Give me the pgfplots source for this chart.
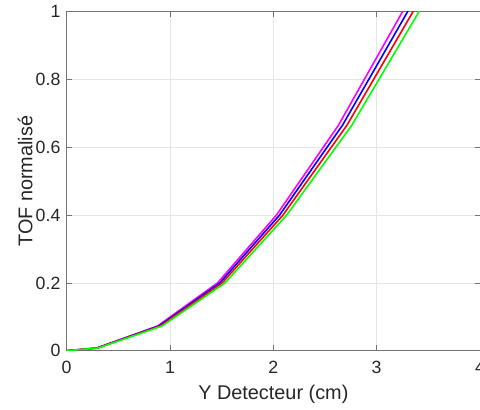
\documentclass[border=0pt]{standalone}
\usepackage{pgfplots}
\pgfplotsset{compat=1.18}
\usepackage{fontspec}
\setmainfont{Liberation Sans}
\definecolor{mmag}{rgb}{1,0,1}
\definecolor{mblue}{rgb}{0,0,1}
\definecolor{mred}{rgb}{1,0,0}
\definecolor{mgreen}{rgb}{0,1,0}
\begin{document}
\begin{tikzpicture}
\begin{axis}[
  scale only axis,
  width=310pt, height=254.25pt,
  xmin=0, xmax=4, ymin=0, ymax=1,
  xtick={0,1,2,3,4}, ytick={0,0.2,0.4,0.6,0.8,1},
  yticklabels={0,0.2,0.4,0.6,0.8,1},
  xticklabels={0,1,2,3,4},
  axis line style={black!55, line width=0.5pt},
  tick style={black!55, line width=0.5pt},
  major tick length=4pt,
  tick align=inside,
  grid=major,
  major grid style={black!10, line width=0.5pt},
  ticklabel style={font=\fontsize{13.3}{15}\selectfont, text=black!85},
  xticklabel style={anchor=base, yshift=-17.25pt, inner sep=0pt},
  yticklabel style={anchor=east, xshift=-4.5pt, inner sep=0pt},
  xlabel={Y Detecteur (cm)},
  ylabel={TOF normalisé},
  label style={font=\fontsize{14.9}{17}\selectfont, text=black!85},
  xlabel style={at={(axis description cs:0.5,-0.1445)}, anchor=base},
  ylabel style={at={(axis description cs:-0.0828,0.5)}, anchor=base},
  every axis plot/.append style={line width=1.2pt},
  clip=true,
]
\addplot[mmag] coordinates {(0,0) (0.29,0.008) (0.88,0.073) (1.46,0.2) (2.03,0.40) (2.63,0.665) (3.50,1.135)};
\addplot[mblue] coordinates {(0,0) (0.294,0.008) (0.893,0.073) (1.482,0.2) (2.060,0.40) (2.669,0.665) (3.553,1.135)};
\addplot[mred] coordinates {(0,0) (0.299,0.008) (0.907,0.073) (1.505,0.2) (2.093,0.40) (2.712,0.665) (3.609,1.135)};
\addplot[mgreen] coordinates {(0,0) (0.304,0.008) (0.923,0.073) (1.532,0.2) (2.129,0.40) (2.759,0.665) (3.672,1.135)};
\end{axis}
\pgfresetboundingbox
\useasboundingbox ([xshift=-50pt,yshift=-43.7pt]current axis.south west) rectangle ([yshift=8.8pt]current axis.north east);
\end{tikzpicture}
\end{document}
